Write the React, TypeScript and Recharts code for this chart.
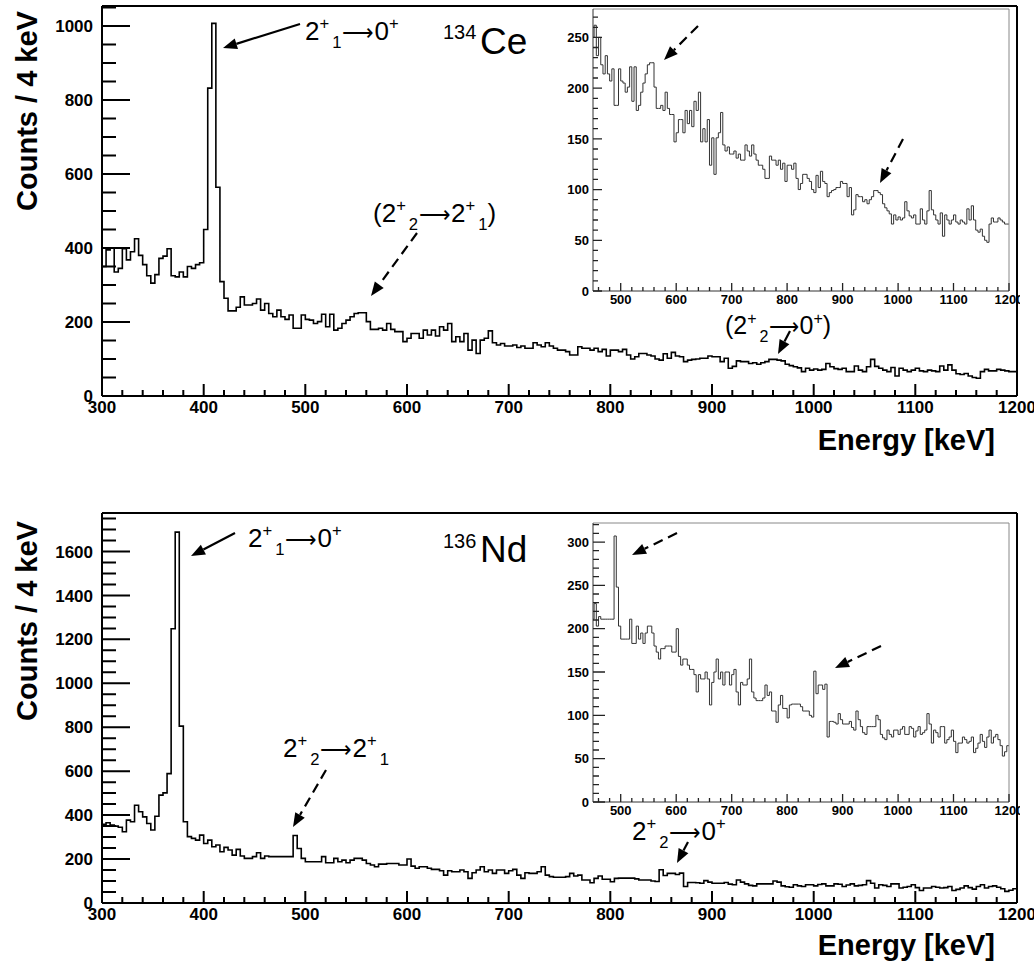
import { Line, LineChart, XAxis, YAxis } from "recharts";

const FONT = '"Liberation Sans", Arial, Helvetica, sans-serif';

// histogram binning, keV
const binStart = 300;
const binWidth = 4;

// 134Ce, counts per 4 keV bin
const ce134Low = [
  350, 395, 400, 335, 345, 398, 368, 390, 425, 380,
  355, 325, 305, 328, 372, 378, 398, 325, 322, 335,
  322, 350, 345, 355, 360,
];
const ce134Peak = [450, 832, 1007, 564, 309, 264];
const ce134Mid = [
  230, 230, 240, 268, 246, 246, 250, 262, 232, 250,
  223, 214, 232, 214, 207, 219, 183, 183, 219, 207,
  205, 196, 201, 221, 187, 221, 178, 183, 196, 205,
  214, 223, 225, 225, 201, 180, 180, 183, 178, 196,
  180, 174, 174, 147, 156, 169, 169, 156, 178, 165,
  178, 162, 187, 178, 196, 147, 160, 147, 169, 124,
  151, 115, 151, 156, 176, 144, 138, 142, 135, 135,
  138, 131, 135, 129, 129, 144, 138, 133, 144, 135,
  129, 124, 124, 120, 111, 111, 133, 129, 129, 124,
  129, 120, 126, 108, 124, 124,
];
const ce134High = [
  120, 126, 111, 100, 106, 115, 115, 111, 108, 100,
  97, 114, 102, 118, 108, 106, 93, 97, 99, 100,
  102, 102, 108, 106, 106, 93, 102, 75, 80, 95,
  93, 93, 88, 90, 86, 90, 93, 99, 99, 97,
  95, 86, 82, 79, 76, 66, 75, 70, 73, 70,
  72, 88, 79, 74, 72, 75, 66, 66, 81, 70,
  66, 79, 99, 80, 75, 70, 66, 77, 54, 75,
  70, 66, 70, 75, 68, 66, 70, 68, 66, 81,
  70, 84, 70, 60, 58, 61, 54, 50, 48, 66,
  72, 68, 68, 72, 70, 68, 66, 66,
];

// 136Nd, counts per 4 keV bin
const nd136Low = [
  358, 365, 355, 350, 345, 324, 377, 370, 445, 415,
  392, 362, 332, 395, 491, 501, 589, 1248, 1688, 805,
  370, 302, 294, 286, 309,
];
const nd136Mid = [
  271, 286, 256, 264, 233, 253, 241, 218, 244, 214,
  203, 203, 211, 229, 203, 214, 211, 211, 211, 211,
  211, 211, 307, 248, 203, 188, 188, 188, 188, 211,
  183, 183, 203, 188, 195, 183, 195, 203, 203, 195,
  180, 173, 165, 177, 177, 180, 180, 180, 173, 173,
];
const nd136Upper = [
  200, 168, 158, 165, 165, 158, 153, 153, 147, 127,
  147, 142, 142, 150, 142, 112, 138, 150, 165, 142,
  150, 135, 150, 150, 135, 147, 153, 127, 112, 138,
  135, 135, 142, 165, 127, 120, 117, 117, 117, 120,
  135, 123, 127, 105, 105, 92, 112, 123, 108, 108,
  97, 112,
];
const nd136High = [
  113, 113, 113, 113, 110, 105, 105, 105, 100, 98,
  151, 125, 135, 135, 130, 136, 75, 93, 93, 92,
  90, 102, 95, 90, 90, 90, 93, 86, 83, 105,
  95, 87, 80, 78, 87, 87, 87, 87, 100, 95,
  78, 74, 72, 83, 78, 75, 83, 83, 78, 84,
  87, 78, 78, 87, 85, 75, 82, 87, 78, 80,
  83, 102, 90, 68, 83, 80, 75, 87, 87, 68,
  72, 75, 83, 70, 57, 68, 68, 75, 72, 68,
  70, 75, 57, 62, 68, 78, 70, 63, 75, 83,
  68, 75, 78, 72, 65, 53, 58, 65,
];

// labelled (major) ticks
const mainXLabels = [300, 400, 500, 600, 700, 800, 900, 1000, 1100, 1200];
const insetXLabels = [500, 600, 700, 800, 900, 1000, 1100, 1200];
const ce134YLabels = [0, 200, 400, 600, 800, 1000];
const nd136YLabels = [0, 200, 400, 600, 800, 1000, 1200, 1400, 1600];
const ce134InsetYLabels = [0, 50, 100, 150, 200, 250];
const nd136InsetYLabels = [0, 50, 100, 150, 200, 250, 300];

function steps(from: number, to: number, step: number) {
  const out: number[] = [];
  for (let v = from; v <= to + 1e-9; v += step) out.push(v);
  return out;
}

function toRows(counts: number[]) {
  const rows = counts.map((c, i) => ({ e: binStart + i * binWidth, c }));
  rows.push({ e: binStart + counts.length * binWidth, c: counts[counts.length - 1] });
  return rows;
}

const ce134Rows = toRows([...ce134Low, ...ce134Peak, ...ce134Mid, ...ce134High]);
const nd136Rows = toRows([...nd136Low, ...nd136Mid, ...nd136Upper, ...nd136High]);

type TickStyle = {
  labels: number[];
  major: number; // inward length of a labelled tick, px
  minor: number; // inward length of the other ticks, px
  size: number;
  gap: number;
  width: number;
  color: string;
};

type Panel = {
  rows: { e: number; c: number }[];
  box: [number, number, number, number]; // left, top, width, height
  plot: [number, number, number, number]; // left, top, right, bottom (page px)
  xDomain: [number, number];
  yMax: number;
  xTicks: number[];
  yTicks: number[];
  xStyle: TickStyle;
  yStyle: TickStyle;
  axisColor: string;
  frameColor: string;
  axisWidth: number;
  stroke: string;
  strokeWidth: number;
};

function xLabel(st: TickStyle) {
  return (p: any) => {
    const v = p.payload.value;
    if (!st.labels.includes(v)) return <g />;
    return (
      <text x={p.x} y={Number(p.y) + st.gap} textAnchor="middle" fontFamily={FONT} fontWeight="bold" fontSize={st.size} fill="#000">
        {v}
      </text>
    );
  };
}

function yLabel(st: TickStyle) {
  return (p: any) => {
    const v = p.payload.value;
    if (!st.labels.includes(v)) return <g />;
    return (
      <text x={Number(p.x) - st.gap} y={p.y} dy="0.36em" textAnchor="end" fontFamily={FONT} fontWeight="bold" fontSize={st.size} fill="#000">
        {v}
      </text>
    );
  };
}

function Histo(h: Panel) {
  const [bl, bt, bw, bh] = h.box;
  const [pl, pt, pr, pb] = h.plot;
  return (
    <div style={{ position: "absolute", left: bl, top: bt, width: bw, height: bh }}>
      <LineChart width={bw} height={bh} data={h.rows} margin={{ top: 0, right: 0, bottom: 0, left: 0 }}>
        <XAxis
          xAxisId="b"
          dataKey="e"
          type="number"
          domain={h.xDomain}
          allowDataOverflow
          ticks={h.xTicks}
          interval={0}
          height={bt + bh - pb}
          tickSize={0}
          tickMargin={0}
          tickLine={false}
          tick={xLabel(h.xStyle)}
          axisLine={{ stroke: h.axisColor, strokeWidth: h.axisWidth }}
        />
        <XAxis
          xAxisId="t"
          orientation="top"
          type="number"
          domain={h.xDomain}
          height={pt - bt}
          tick={false}
          tickLine={false}
          axisLine={{ stroke: h.frameColor, strokeWidth: h.axisWidth }}
        />
        <YAxis
          yAxisId="l"
          type="number"
          domain={[0, h.yMax]}
          allowDataOverflow
          ticks={h.yTicks}
          interval={0}
          width={pl - bl}
          tickSize={0}
          tickMargin={0}
          tickLine={false}
          tick={yLabel(h.yStyle)}
          axisLine={{ stroke: h.axisColor, strokeWidth: h.axisWidth }}
        />
        <YAxis
          yAxisId="r"
          orientation="right"
          type="number"
          domain={[0, h.yMax]}
          width={bl + bw - pr}
          tick={false}
          tickLine={false}
          axisLine={{ stroke: h.frameColor, strokeWidth: h.axisWidth }}
        />
        <Line
          xAxisId="b"
          yAxisId="l"
          dataKey="c"
          type="stepAfter"
          dot={false}
          activeDot={false}
          stroke={h.stroke}
          strokeWidth={h.strokeWidth}
          isAnimationActive={false}
        />
      </LineChart>
    </div>
  );
}

// inward ROOT-style tick marks, at the same values as the axis ticks above
function TickMarks({ p }: { p: Panel }) {
  const [pl, pt, pr, pb] = p.plot;
  const [x0, x1] = p.xDomain;
  const px = (v: number) => pl + ((v - x0) / (x1 - x0)) * (pr - pl);
  const py = (v: number) => pb - (v / p.yMax) * (pb - pt);
  let dx = "";
  for (const v of p.xTicks) {
    const len = p.xStyle.labels.includes(v) ? p.xStyle.major : p.xStyle.minor;
    dx += `M${px(v).toFixed(1)} ${pb}L${px(v).toFixed(1)} ${pb - len}`;
  }
  let dy = "";
  for (const v of p.yTicks) {
    const len = p.yStyle.labels.includes(v) ? p.yStyle.major : p.yStyle.minor;
    dy += `M${pl} ${py(v).toFixed(1)}L${pl + len} ${py(v).toFixed(1)}`;
  }
  return (
    <g>
      <path d={dx} fill="none" stroke={p.xStyle.color} strokeWidth={p.xStyle.width} />
      <path d={dy} fill="none" stroke={p.yStyle.color} strokeWidth={p.yStyle.width} />
    </g>
  );
}

const mainX: TickStyle = { labels: mainXLabels, major: 12, minor: 6, size: 17, gap: 17, width: 2, color: "#000" };
const insetX: TickStyle = { labels: insetXLabels, major: 8, minor: 4, size: 13, gap: 13, width: 1.3, color: "#222" };

const panels: Panel[] = [
  {
    rows: ce134Rows,
    box: [0, 0, 1034, 440],
    plot: [102, 6, 1017, 396],
    xDomain: [300, 1200],
    yMax: 1054,
    xTicks: steps(300, 1200, 20),
    yTicks: steps(0, 1050, 50),
    xStyle: mainX,
    yStyle: { labels: ce134YLabels, major: 28, minor: 14, size: 17, gap: 9, width: 2, color: "#000" },
    axisColor: "#000",
    frameColor: "#000",
    axisWidth: 2,
    stroke: "#000",
    strokeWidth: 1.6,
  },
  {
    rows: ce134Rows,
    box: [540, 0, 480, 320],
    plot: [593, 9, 1009, 291],
    xDomain: [450, 1200],
    yMax: 278,
    xTicks: steps(460, 1200, 20),
    yTicks: steps(0, 270, 10),
    xStyle: insetX,
    yStyle: { labels: ce134InsetYLabels, major: 9, minor: 5, size: 13, gap: 4, width: 1.3, color: "#222" },
    axisColor: "#333",
    frameColor: "#888",
    axisWidth: 1,
    stroke: "#333",
    strokeWidth: 1,
  },
  {
    rows: nd136Rows,
    box: [0, 490, 1034, 450],
    plot: [102, 513, 1017, 903],
    xDomain: [300, 1200],
    yMax: 1775,
    xTicks: steps(300, 1200, 20),
    yTicks: steps(0, 1750, 50),
    xStyle: mainX,
    yStyle: { labels: nd136YLabels, major: 28, minor: 14, size: 17, gap: 9, width: 2, color: "#000" },
    axisColor: "#000",
    frameColor: "#000",
    axisWidth: 2,
    stroke: "#000",
    strokeWidth: 1.6,
  },
  {
    rows: nd136Rows,
    box: [540, 505, 480, 330],
    plot: [593, 523, 1009, 802],
    xDomain: [450, 1200],
    yMax: 322,
    xTicks: steps(460, 1200, 20),
    yTicks: steps(0, 320, 10),
    xStyle: insetX,
    yStyle: { labels: nd136InsetYLabels, major: 12, minor: 6, size: 13, gap: 4, width: 1.3, color: "#222" },
    axisColor: "#333",
    frameColor: "#888",
    axisWidth: 1,
    stroke: "#333",
    strokeWidth: 1,
  },
];

type Seg = [string, number]; // 0 normal, 1 superscript, 2 subscript

const ARW = "\u27F6";

function Level({ x, y, size, segs }: { x: number; y: number; size: number; segs: Seg[] }) {
  let prev = 0;
  let prevKind = 0;
  return (
    <text x={x} y={y} fontFamily={FONT} fontSize={size} fill="#000">
      {segs.map(([t, k], i) => {
        const off = k === 1 ? -0.42 * size : k === 2 ? 0.3 * size : 0;
        const dy = off - prev;
        const dx = k === 2 && prevKind === 1 ? 3 : t === ARW ? 1 : 0;
        prev = off;
        prevKind = k;
        const fs = k ? size * 0.64 : t === ARW ? size * 0.85 : size;
        return (
          <tspan key={i} dx={dx} dy={dy} fontSize={fs}>
            {t}
          </tspan>
        );
      })}
    </text>
  );
}

function Arrow({ x1, y1, x2, y2, dashed }: { x1: number; y1: number; x2: number; y2: number; dashed?: boolean }) {
  const dx = x2 - x1;
  const dy = y2 - y1;
  const len = Math.hypot(dx, dy);
  const ux = dx / len;
  const uy = dy / len;
  const head = 14;
  const half = 5.5;
  const bx = x2 - ux * head;
  const by = y2 - uy * head;
  const pts = `${x2},${y2} ${bx - uy * half},${by + ux * half} ${bx + uy * half},${by - ux * half}`;
  return (
    <g>
      <line x1={x1} y1={y1} x2={bx} y2={by} stroke="#000" strokeWidth={2.2} strokeDasharray={dashed ? "10 6" : undefined} />
      <polygon points={pts} fill="#000" />
    </g>
  );
}

function Notes() {
  return (
    <svg width={1034} height={970} style={{ position: "absolute", left: 0, top: 0, pointerEvents: "none" }}>
      {panels.map((p, i) => (
        <TickMarks key={i} p={p} />
      ))}

      {/* axis titles */}
      <text transform="translate(37,111) rotate(-90)" textAnchor="middle" fontFamily={FONT} fontWeight="bold" fontSize={29}>
        Counts / 4 keV
      </text>
      <text transform="translate(37,621) rotate(-90)" textAnchor="middle" fontFamily={FONT} fontWeight="bold" fontSize={29}>
        Counts / 4 keV
      </text>
      <text x={995} y={450} textAnchor="end" fontFamily={FONT} fontWeight="bold" fontSize={29}>
        Energy [keV]
      </text>
      <text x={995} y={955} textAnchor="end" fontFamily={FONT} fontWeight="bold" fontSize={29}>
        Energy [keV]
      </text>

      {/* 134Ce panel */}
      <text x={443} y={39} fontFamily={FONT} fontSize={20}>134</text>
      <text x={480} y={54} fontFamily={FONT} fontSize={37}>Ce</text>
      <Level x={305} y={40} size={26} segs={[["2", 0], ["+", 1], ["1", 2], [ARW, 0], ["0", 0], ["+", 1]]} />
      <Arrow x1={300} y1={24} x2={223} y2={48} />
      <Level x={373} y={222} size={26} segs={[["(", 0], ["2", 0], ["+", 1], ["2", 2], [ARW, 0], ["2", 0], ["+", 1], ["1", 2], [")", 0]]} />
      <Arrow x1={417} y1={233} x2={371} y2={296} dashed />
      <Level x={725} y={334} size={25} segs={[["(", 0], ["2", 0], ["+", 1], ["2", 2], [ARW, 0], ["0", 0], ["+", 1], [")", 0]]} />
      <Arrow x1={790} y1={331} x2={778} y2={354} />
      <Arrow x1={698} y1={26} x2={664} y2={60} dashed />
      <Arrow x1={903} y1={139} x2={880} y2={183} dashed />

      {/* 136Nd panel */}
      <text x={443} y={548} fontFamily={FONT} fontSize={20}>136</text>
      <text x={480} y={562} fontFamily={FONT} fontSize={37}>Nd</text>
      <Level x={248} y={547} size={26} segs={[["2", 0], ["+", 1], ["1", 2], [ARW, 0], ["0", 0], ["+", 1]]} />
      <Arrow x1={235} y1={533} x2={191} y2={556} />
      <Level x={283} y={757} size={26} segs={[["2", 0], ["+", 1], ["2", 2], [ARW, 0], ["2", 0], ["+", 1], ["1", 2]]} />
      <Arrow x1={326} y1={770} x2={293} y2={827} dashed />
      <Level x={632} y={840} size={26} segs={[["2", 0], ["+", 1], ["2", 2], [ARW, 0], ["0", 0], ["+", 1]]} />
      <Arrow x1={688} y1={842} x2={677} y2={863} />
      <Arrow x1={677} y1={533} x2={632} y2={555} dashed />
      <Arrow x1={881} y1={646} x2={835} y2={668} dashed />
    </svg>
  );
}

export default function App() {
  return (
    <div style={{ position: "absolute", left: 0, top: 0, width: 1034, height: 970, background: "#fff", overflow: "hidden" }}>
      {panels.map((p, i) => (
        <Histo key={i} {...p} />
      ))}
      <Notes />
    </div>
  );
}
